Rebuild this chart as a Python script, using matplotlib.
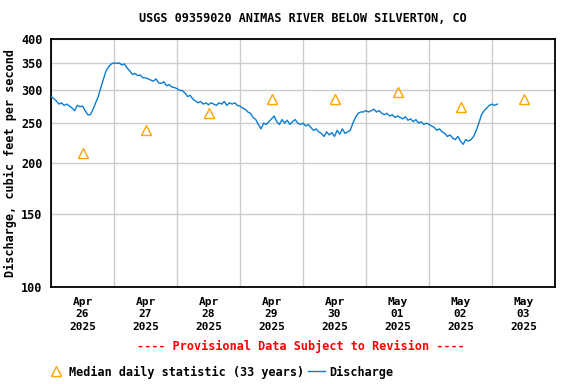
import numpy as np
import pandas as pd
import matplotlib
matplotlib.use("Agg")
import matplotlib.pyplot as plt
import matplotlib.dates as mdates
from matplotlib.ticker import FixedLocator, NullLocator, NullFormatter

plt.rcParams["font.family"] = "DejaVu Sans Mono"
plt.rcParams["font.weight"] = "bold"
plt.rcParams["axes.labelweight"] = "bold"

title = "USGS 09359020 ANIMAS RIVER BELOW SILVERTON, CO"

# hourly discharge (cfs), starting 2025-04-26 00:00
start = "2025-04-26 00:00"
discharge = [
    # Apr 26
    290, 287, 283, 278, 280, 276, 278, 275, 272, 268, 276, 274,
    275, 268, 262, 262, 270, 280, 290, 305, 320, 335, 343, 348,
    # Apr 27
    350, 349, 350, 346, 348, 340, 335, 328, 330, 326, 327, 322,
    322, 320, 318, 316, 320, 313, 312, 315, 308, 310, 306, 305,
    # Apr 28
    303, 300, 300, 296, 290, 292, 286, 283, 280, 282, 278, 280,
    277, 280, 278, 276, 280, 278, 282, 276, 280, 278, 280, 276,
    # Apr 29
    275, 272, 270, 266, 264, 258, 255, 248, 242, 250, 248, 252,
    256, 260, 252, 248, 255, 250, 254, 248, 252, 255, 250, 248,
    # Apr 30
    250, 246, 248, 244, 240, 242, 238, 236, 232, 238, 234, 237,
    232, 240, 235, 242, 236, 238, 240, 250, 258, 264, 266, 266,
    # May 01
    268, 266, 268, 270, 266, 268, 264, 262, 264, 260, 262, 258,
    260, 258, 256, 259, 254, 256, 252, 255, 250, 252, 248, 250,
    # May 02
    248, 246, 244, 240, 242, 238, 236, 232, 234, 230, 228, 232,
    226, 222, 228, 226, 228, 232, 240, 250, 262, 268, 272, 276,
    # May 03
    278, 276, 278,
]

median_days = ["2025-04-26", "2025-04-27", "2025-04-28", "2025-04-29",
               "2025-04-30", "2025-05-01", "2025-05-02", "2025-05-03"]
median_values = [212, 240, 265, 286, 286, 297, 274, 286]

y_ticks = [100, 150, 200, 250, 300, 350, 400]

times = pd.date_range(start, periods=len(discharge), freq="h")
med_times = pd.to_datetime(median_days) + pd.Timedelta(hours=12)

fig = plt.figure(figsize=(5.76, 3.84), dpi=100)
ax = fig.add_axes([51 / 576, 1 - 287 / 384, 504 / 576, 248 / 384])

blue = "#0a7dd0"
orange = "#ffa500"

ax.plot(times, discharge, color=blue, linewidth=1.0, zorder=3)
ax.plot(med_times, median_values, linestyle="none", marker="^", markersize=7,
        markerfacecolor="none", markeredgecolor=orange, markeredgewidth=1.0, zorder=4)

ax.set_yscale("log")
ax.set_ylim(100, 400)
ax.yaxis.set_major_locator(FixedLocator(y_ticks))
ax.yaxis.set_minor_locator(NullLocator())
ax.yaxis.set_minor_formatter(NullFormatter())
ax.set_yticklabels([str(v) for v in y_ticks])

ax.set_xlim(pd.Timestamp("2025-04-26"), pd.Timestamp("2025-05-04"))
ax.xaxis.set_major_locator(mdates.DayLocator())
ax.xaxis.set_major_formatter(NullFormatter())
ax.xaxis.set_minor_locator(mdates.HourLocator(byhour=12))
ax.xaxis.set_minor_formatter(mdates.DateFormatter("%b\n%d\n%Y"))
ax.tick_params(axis="x", which="both", length=0, pad=7, labelsize=8)
ax.tick_params(axis="y", length=0, pad=6, labelsize=8.5)
for lbl in ax.xaxis.get_minorticklabels():
    lbl.set_linespacing(1.3)

ax.grid(True, which="major", color="#cccccc", linewidth=1.0, zorder=0)
for s in ax.spines.values():
    s.set_linewidth(1.3)
    s.set_color("black")

ax.set_ylabel("Discharge, cubic feet per second", fontsize=8.5, labelpad=3,
              fontweight="bold")
fig.text(303 / 576, 1 - 19 / 384, title, ha="center", va="center", fontsize=8.5,
         fontweight="bold")
fig.text(301 / 576, 1 - 346 / 384, "---- Provisional Data Subject to Revision ----",
         ha="center", va="center", fontsize=8.5, color="red", fontweight="bold")

h_med, = ax.plot([], [], linestyle="none", marker="^", markersize=7,
                 markerfacecolor="none", markeredgecolor=orange)
h_dis, = ax.plot([], [], color=blue, linewidth=1.0)
fig.legend([h_med, h_dis], ["Median daily statistic (33 years)", "Discharge"],
           loc="center left", bbox_to_anchor=(47 / 576, 1 - 372 / 384), ncol=2,
           frameon=False, fontsize=8.5, handlelength=1.5, handletextpad=0.35,
           columnspacing=0.3, borderpad=0, borderaxespad=0)

fig.savefig("out.png", dpi=100)
